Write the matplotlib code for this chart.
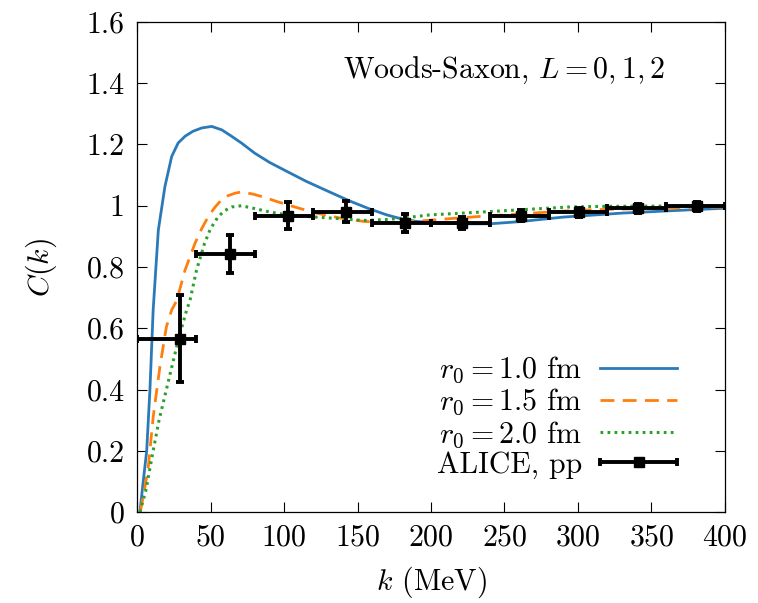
import matplotlib
matplotlib.use("Agg")
import matplotlib.pyplot as plt
from matplotlib.container import ErrorbarContainer
from matplotlib.legend_handler import HandlerErrorbar
from matplotlib.ticker import FuncFormatter
import numpy as np

plt.rcParams["font.family"] = "cmr10"
plt.rcParams["mathtext.fontset"] = "cm"
plt.rcParams["axes.formatter.use_mathtext"] = True

# r0 = 1.0 fm
k_r10 = [2, 4, 6.6, 8.8, 11, 14.5, 19, 23.6, 28, 32.7, 38, 44, 50.8, 57.6, 64, 71,
         80, 90, 100, 115, 131, 145, 158, 170, 180, 190, 200, 220, 240, 260, 290,
         330, 360, 400]
c_r10 = [0, 0.09, 0.2, 0.4, 0.66, 0.92, 1.063, 1.161, 1.205, 1.227, 1.243, 1.254,
         1.259, 1.248, 1.228, 1.205, 1.172, 1.142, 1.117, 1.08, 1.045, 1.015, 0.99,
         0.97, 0.957, 0.949, 0.945, 0.941, 0.941, 0.948, 0.963, 0.976, 0.983, 0.992]

# r0 = 1.5 fm
k_r15 = [2.2, 5, 7.7, 11, 15.6, 20, 23.6, 27, 32.7, 39.5, 44, 48.5, 53, 57.6, 62,
         66.7, 71, 79, 87, 95, 108, 122, 138, 154, 170, 192, 213, 233, 269, 292, 310,
         356, 400]
c_r15 = [0, 0.07, 0.148, 0.31, 0.475, 0.605, 0.66, 0.69, 0.79, 0.878, 0.925, 0.965,
         0.995, 1.02, 1.033, 1.041, 1.045, 1.038, 1.027, 1.014, 0.995, 0.976, 0.96,
         0.949, 0.945, 0.95, 0.958, 0.965, 0.976, 0.983, 0.987, 0.992, 0.996]

# r0 = 2.0 fm
k_r20 = [2, 6, 11, 15, 20, 24, 28, 33.8, 36, 40.5, 46, 50, 55.3, 60, 64.4, 71, 79,
         90, 102, 115, 131, 154, 170, 181, 199, 240, 294, 317, 360, 400]
c_r20 = [0, 0.07, 0.2, 0.3, 0.4, 0.48, 0.56, 0.66, 0.69, 0.79, 0.878, 0.925, 0.965,
         0.985, 0.996, 1.0, 0.992, 0.98, 0.97, 0.965, 0.96, 0.952, 0.955, 0.96, 0.97,
         0.981, 0.996, 0.998, 0.999, 1.0]

# ALICE pp data
k_data = [29, 63, 103, 142, 182, 221, 261, 301, 341, 381]
k_lo = [0, 40, 80, 120, 160, 200, 240, 280, 320, 360]
k_hi = [40, 80, 120, 160, 200, 240, 280, 320, 360, 400]
c_data = [0.565, 0.842, 0.968, 0.981, 0.943, 0.943, 0.968, 0.978, 0.992, 0.998]
c_err = [0.142, 0.061, 0.045, 0.035, 0.03, 0.02, 0.018, 0.015, 0.015, 0.015]

fs = 21.5

fig = plt.figure(figsize=(7.58, 6.03), dpi=100)
ax = fig.add_axes([137 / 758, 91 / 603, 588 / 758, 490 / 603])

ax.plot(k_r10, c_r10, color="#2a7ab9", lw=2.0, label=r"$r_0 = 1.0$ fm")
ax.plot(k_r15, c_r15, color="#ff7f0e", lw=2.0, dashes=(5, 3), label=r"$r_0 = 1.5$ fm")
ax.plot(k_r20, c_r20, color="#2ca02c", lw=2.2, dashes=(0.9, 1.4), label=r"$r_0 = 2.0$ fm")

k_arr = np.array(k_data)
xerr = [k_arr - np.array(k_lo), np.array(k_hi) - k_arr]
ax.errorbar(k_data, c_data, xerr=xerr, yerr=c_err, fmt="s", color="black",
            ms=7, lw=2.8, capsize=3, capthick=2.8, label="ALICE, pp")

ax.set_xlim(0, 400)
ax.set_ylim(0, 1.6)
ax.set_xticks(np.arange(0, 401, 50))
ax.set_yticks(np.arange(0, 1.61, 0.2))
ax.yaxis.set_major_formatter(FuncFormatter(lambda v, p: "%g" % round(v, 2)))
ax.tick_params(direction="in", length=7, width=0.8, labelsize=fs, pad=9,
               top=True, right=True)
for s in ax.spines.values():
    s.set_linewidth(0.9)

ax.set_xlabel(r"$k$ (MeV)", fontsize=fs, labelpad=9)
ax.set_ylabel(r"$C(k)$", fontsize=fs, labelpad=20)

ax.text(0.898, 0.902, r"Woods-Saxon, $L = 0, 1, 2$", transform=ax.transAxes,
        ha="right", va="center", fontsize=fs)

ax.legend(loc="lower right", bbox_to_anchor=(0.944, 0.037), frameon=False,
          markerfirst=False, fontsize=fs, handlelength=2.58, handletextpad=0.6,
          labelspacing=0.06, borderpad=0.0,
          handler_map={ErrorbarContainer: HandlerErrorbar(xerr_size=1.29, yerr_size=0)})

fig.savefig("out.png", dpi=100)
